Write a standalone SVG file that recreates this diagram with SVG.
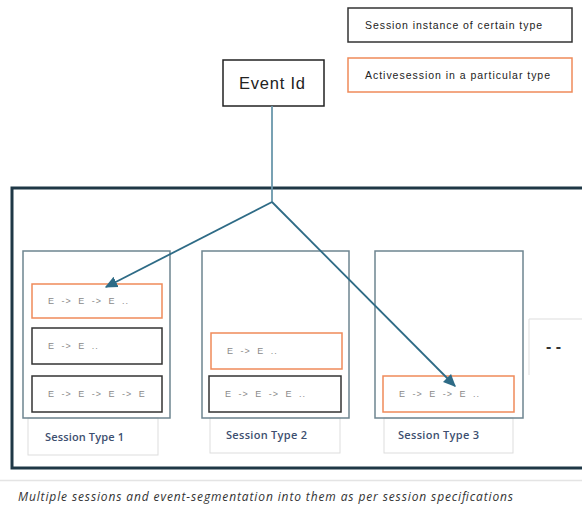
<svg xmlns="http://www.w3.org/2000/svg" width="582" height="524" viewBox="0 0 582 524">
<style>
.inst{fill:#fff;stroke:#333;stroke-width:1.5}
.act{fill:#fff;stroke:#ef8a5a;stroke-width:1.5}
.col{fill:none;stroke:#6e8590;stroke-width:1.5}
.lab{fill:none;stroke:#ddd;stroke-width:1}
.ev{font-family:"Liberation Sans",Arial,sans-serif;font-size:9px;fill:#8a8a8a;letter-spacing:1px;word-spacing:3px}
.st{font-family:"Open Sans","Liberation Sans",sans-serif;font-size:11px;font-weight:600;fill:#3d4f70}
.lg{font-family:"Liberation Sans",Arial,sans-serif;font-size:10.5px;fill:#222}
.conn{fill:none;stroke:#2e6b86;stroke-width:1.8}
</style>
<defs>
<marker id="ah" viewBox="0 0 10 10" refX="9" refY="5" markerWidth="7" markerHeight="7" orient="auto" markerUnits="strokeWidth">
<path d="M0,0.5 L10,5 L0,9.5 z" fill="#2e6b86"/>
</marker>
</defs>
<rect width="582" height="524" fill="#fff"/>
<g id="legend-instance">
<rect x="348" y="8" width="224" height="34" fill="#fff" stroke="#333" stroke-width="1.5"/>
<text x="365" y="28.5" class="lg" textLength="177" lengthAdjust="spacing">Session instance of certain type</text>
</g>
<g id="legend-active">
<rect x="348" y="58" width="224" height="34" class="act"/>
<text x="365" y="78.5" class="lg" textLength="185" lengthAdjust="spacing">Activesession in a particular type</text>
</g>
<g id="container">
<rect x="12" y="188" width="580" height="280" fill="none" stroke="#1f3846" stroke-width="3"/>
</g>
<g id="event-id">
<rect x="223" y="60" width="101" height="46" fill="#fff" stroke="#222" stroke-width="1.5"/>
<text x="239" y="89" font-family="'Liberation Sans',Arial,sans-serif" font-size="16.5" fill="#222" textLength="66" lengthAdjust="spacing">Event Id</text>
</g>
<g id="session-type-1">
<rect x="28" y="418" width="130" height="37" class="lab"/>
<rect x="23" y="251" width="147" height="167" class="col"/>
<rect x="32" y="284" width="130" height="34" class="act"/>
<text x="48" y="304" class="ev">E -&gt; E -&gt; E ..</text>
<rect x="32" y="328" width="130" height="36" class="inst"/>
<text x="48" y="349" class="ev">E -&gt; E ..</text>
<rect x="32" y="376" width="130" height="36" class="inst"/>
<text x="48" y="397" class="ev">E -&gt; E -&gt; E -&gt; E</text>
<text x="45" y="441" class="st" textLength="79" lengthAdjust="spacing">Session Type 1</text>
</g>
<g id="session-type-2">
<rect x="210" y="418" width="130" height="35" class="lab"/>
<rect x="202" y="251" width="147" height="167" class="col"/>
<rect x="211" y="333" width="131" height="36" class="act"/>
<text x="227" y="354" class="ev">E -&gt; E ..</text>
<rect x="209" y="376" width="132" height="36" class="inst"/>
<text x="225" y="397" class="ev">E -&gt; E -&gt; E ..</text>
<text x="226" y="439" class="st" textLength="81" lengthAdjust="spacing">Session Type 2</text>
</g>
<g id="session-type-3">
<rect x="384" y="418" width="129" height="35" class="lab"/>
<rect x="375" y="251" width="148" height="167" class="col"/>
<rect x="383" y="376" width="131" height="36" class="act"/>
<text x="399" y="397" class="ev">E -&gt; E -&gt; E ..</text>
<text x="398" y="439" class="st" textLength="81" lengthAdjust="spacing">Session Type 3</text>
</g>
<g id="more">
<path d="M529,375 V319 H592" fill="none" stroke="#ddd" stroke-width="1"/>
<text x="546" y="352" font-family="'Liberation Sans',Arial,sans-serif" font-size="16" font-weight="bold" fill="#333">- -</text>
</g>
<g id="connectors">
<line x1="272" y1="106" x2="272" y2="202" stroke="#6a97ab" stroke-width="1.8"/>
<path d="M272,202 L106,287" class="conn" marker-end="url(#ah)"/>
<path d="M272,202 L455,386" class="conn" marker-end="url(#ah)"/>
</g>
<line x1="0" y1="480.5" x2="582" y2="480.5" stroke="#e4e4e4" stroke-width="1.5"/>
<text x="18" y="501" font-family="'Open Sans','Liberation Sans',sans-serif" font-style="italic" font-size="12" fill="#333" textLength="495" lengthAdjust="spacing">Multiple sessions and event-segmentation into them as per session specifications</text>
</svg>
